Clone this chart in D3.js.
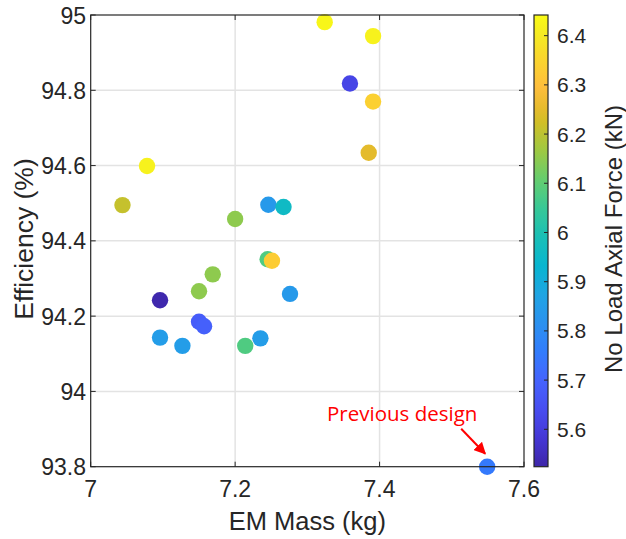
<!DOCTYPE html>
<html>
<head>
<meta charset="utf-8">
<script src="https://cdn.jsdelivr.net/npm/d3@7"></script>
<style>
  body { margin: 0; background: #fff; }
  svg text { font-family: "Liberation Sans", Arial, sans-serif; fill: #262626; }
</style>
</head>
<body>
<svg id="chart" width="626" height="539"></svg>
<script>
// Efficiency vs EM mass, coloured by no-load axial force (parula)
const mass = [7.324, 7.391, 7.359, 7.391, 7.385, 7.078, 7.044, 7.200, 7.246, 7.267,
              7.245, 7.251, 7.169, 7.150, 7.096, 7.276, 7.150, 7.157, 7.096, 7.127,
              7.214, 7.235, 7.549];
const efficiency = [94.981, 94.944, 94.818, 94.770, 94.634, 94.599, 94.495, 94.458, 94.496, 94.490,
                    94.351, 94.347, 94.311, 94.266, 94.242, 94.259, 94.185, 94.173, 94.143, 94.121,
                    94.121, 94.141, 93.800];
const force = [6.43, 6.42, 5.62, 6.34, 6.25, 6.42, 6.21, 6.15, 5.84, 5.96,
               6.08, 6.33, 6.15, 6.15, 5.53, 5.84, 5.68, 5.69, 5.85, 5.85,
               6.08, 5.85, 5.75];
const xTicks = [7, 7.2, 7.4, 7.6];
const yTicks = [93.8, 94, 94.2, 94.4, 94.6, 94.8, 95];
const cTicks = [5.6, 5.7, 5.8, 5.9, 6, 6.1, 6.2, 6.3, 6.4];

// parula colormap (sampled from MATLAB's 64-entry table)
const parula = [
  [1, 0.2422, 0.1504, 0.6603], [5, 0.2706, 0.2147, 0.8364], [9, 0.2813, 0.3006, 0.9414],
  [13, 0.2699, 0.3892, 0.9906], [17, 0.1963, 0.4847, 0.9892], [21, 0.1687, 0.5703, 0.9359],
  [25, 0.1248, 0.6459, 0.8883], [29, 0.0297, 0.7082, 0.8163], [33, 0.0964, 0.7500, 0.7120],
  [37, 0.2161, 0.7843, 0.5923], [41, 0.3909, 0.8029, 0.4354], [45, 0.6174, 0.7876, 0.2612],
  [49, 0.8203, 0.7498, 0.1535], [51, 0.9035, 0.7330, 0.1774], [54, 0.9956, 0.7434, 0.2371],
  [58, 0.9786, 0.8386, 0.1766], [61, 0.9597, 0.9135, 0.1423], [64, 0.9769, 0.9839, 0.0805]
];

(function() {
  const toRgb = p => d3.rgb(p[1] * 255, p[2] * 255, p[3] * 255).formatHex();
  const parulaT = d3.scaleLinear()
    .domain(parula.map(p => (p[0] - 1) / 63))
    .range(parula.map(toRgb))
    .interpolate(d3.interpolateRgb);

  const svg = d3.select("#chart");
  const left = 90.7, right = 524, top = 15, bottom = 466.7;

  const x = d3.scaleLinear().domain([7, 7.6]).range([left, right]);
  const y = d3.scaleLinear().domain([93.8, 95]).range([bottom, top]);
  const cDomain = [5.524, 6.442];
  const color = v => parulaT((v - cDomain[0]) / (cDomain[1] - cDomain[0]));

  // grid
  const grid = svg.append("g").attr("stroke", "#e3e3e3").attr("stroke-width", 1.5);
  xTicks.slice(1, -1).forEach(t => grid.append("line")
    .attr("x1", x(t)).attr("x2", x(t)).attr("y1", top).attr("y2", bottom));
  yTicks.slice(1, -1).forEach(t => grid.append("line")
    .attr("x1", left).attr("x2", right).attr("y1", y(t)).attr("y2", y(t)));

  // points
  const data = mass.map((m, i) => ({ m, e: efficiency[i], f: force[i] }));
  svg.append("g").selectAll("circle")
    .data(data)
    .join("circle")
    .attr("cx", d => x(d.m))
    .attr("cy", d => y(d.e))
    .attr("r", 8.2)
    .attr("fill", d => color(d.f));

  // box + inward ticks
  const ax = svg.append("g").attr("stroke", "#262626").attr("fill", "none");
  ax.append("rect").attr("x", left).attr("y", top)
    .attr("width", right - left).attr("height", bottom - top).attr("stroke-width", 1.2);
  xTicks.forEach(t => {
    ax.append("line").attr("x1", x(t)).attr("x2", x(t)).attr("y1", bottom).attr("y2", bottom - 5);
    ax.append("line").attr("x1", x(t)).attr("x2", x(t)).attr("y1", top).attr("y2", top + 5);
  });
  yTicks.forEach(t => {
    ax.append("line").attr("x1", left).attr("x2", left + 5).attr("y1", y(t)).attr("y2", y(t));
    ax.append("line").attr("x1", right).attr("x2", right - 5).attr("y1", y(t)).attr("y2", y(t));
  });

  svg.append("g").selectAll("text").data(xTicks).join("text")
    .attr("x", d => x(d)).attr("y", 497)
    .attr("text-anchor", "middle").attr("font-size", 23)
    .text(d => d);
  svg.append("g").selectAll("text").data(yTicks).join("text")
    .attr("x", 86).attr("y", d => y(d) + 8.5)
    .attr("text-anchor", "end").attr("font-size", 23)
    .text(d => d);

  svg.append("text").attr("x", (left + right) / 2).attr("y", 530)
    .attr("text-anchor", "middle").attr("font-size", 25.5).text("EM Mass (kg)");
  svg.append("text").attr("transform", "translate(33,239) rotate(-90)")
    .attr("text-anchor", "middle").attr("font-size", 26.5).text("Efficiency (%)");

  // colorbar
  const cbX = 534, cbW = 14;
  const cy = d3.scaleLinear().domain(cDomain).range([bottom, top]);
  const defs = svg.append("defs");
  const grad = defs.append("linearGradient").attr("id", "parula")
    .attr("x1", 0).attr("y1", 1).attr("x2", 0).attr("y2", 0);
  d3.range(0, 1.0001, 1 / 63).forEach(t => grad.append("stop")
    .attr("offset", t).attr("stop-color", parulaT(t)));
  svg.append("rect").attr("x", cbX).attr("y", top).attr("width", cbW).attr("height", bottom - top)
    .attr("fill", "url(#parula)").attr("stroke", "#262626").attr("stroke-width", 1.2);
  svg.append("g").attr("stroke", "#262626").selectAll("line").data(cTicks).join("line")
    .attr("x1", cbX + cbW).attr("x2", cbX + cbW - 4).attr("y1", d => cy(d)).attr("y2", d => cy(d));
  svg.append("g").selectAll("text").data(cTicks).join("text")
    .attr("x", 557).attr("y", d => cy(d) + 7.5)
    .attr("font-size", 21).text(d => d);
  svg.append("text").attr("transform", "translate(622,239) rotate(-90)")
    .attr("text-anchor", "middle").attr("font-size", 24).text("No Load Axial Force (kN)");

  // annotation
  const prev = data[data.length - 1];
  defs.append("marker").attr("id", "arrow").attr("viewBox", "0 0 10 10")
    .attr("refX", 9).attr("refY", 5).attr("markerWidth", 6).attr("markerHeight", 6)
    .attr("orient", "auto")
    .append("path").attr("d", "M0,0L10,5L0,10z").attr("fill", "red");
  svg.append("line")
    .attr("x1", x(prev.m) - 26).attr("y1", y(prev.e) - 38)
    .attr("x2", x(prev.m) - 2).attr("y2", y(prev.e) - 13)
    .attr("stroke", "red").attr("stroke-width", 2).attr("marker-end", "url(#arrow)");
  svg.append("text").attr("x", 327).attr("y", 421)
    .style("font-family", "'Open Sans', sans-serif").style("fill", "red")
    .attr("font-size", 20.5).text("Previous design");
})();
</script>
</body>
</html>
